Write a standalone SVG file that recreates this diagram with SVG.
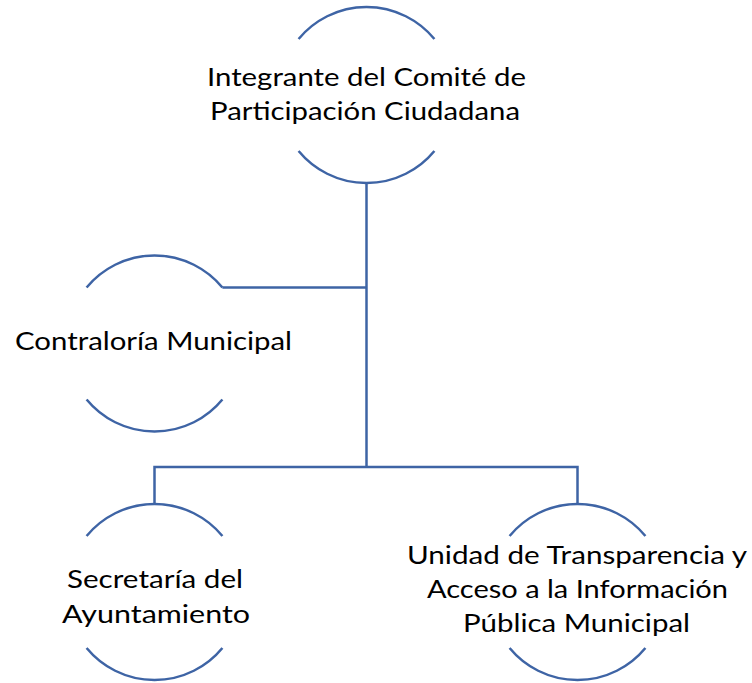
<svg xmlns="http://www.w3.org/2000/svg" width="752" height="683" viewBox="0 0 752 683">
<style>
.arc{fill:none;stroke:#3E64A5;stroke-width:2.5}
.con{fill:none;stroke:#3E64A5;stroke-width:2.5}
.t{font-family:Lato,"Open Sans","Liberation Sans",sans-serif;font-size:24.5px;fill:#000;text-anchor:middle}
</style>
<rect width="752" height="683" fill="#fff"/>
<g id="connectors">
<path class="con" d="M366.5 183 V467"/>
<path class="con" d="M222.4 287.5 H366.5"/>
<path class="con" d="M154.5 504 V467 H577.5 V504"/>
</g>
<g id="node-comite">
<path class="arc" d="M298.6 39 A88 88 0 0 1 434.4 39"/>
<path class="arc" d="M298.6 151 A88 88 0 0 0 434.4 151"/>
<text class="t" x="366.5" y="86" textLength="319" lengthAdjust="spacingAndGlyphs">Integrante del Comité de</text>
<text class="t" x="365" y="120" textLength="310" lengthAdjust="spacingAndGlyphs">Participación Ciudadana</text>
</g>
<g id="node-contraloria">
<path class="arc" d="M86.6 287.5 A88 88 0 0 1 222.4 287.5"/>
<path class="arc" d="M86.6 399.5 A88 88 0 0 0 222.4 399.5"/>
<text class="t" x="153.5" y="350" textLength="277" lengthAdjust="spacingAndGlyphs">Contraloría Municipal</text>
</g>
<g id="node-secretaria">
<path class="arc" d="M86.6 536 A88 88 0 0 1 222.4 536"/>
<path class="arc" d="M86.6 648 A88 88 0 0 0 222.4 648"/>
<text class="t" x="155" y="588" textLength="176" lengthAdjust="spacingAndGlyphs">Secretaría del</text>
<text class="t" x="156" y="622.5" textLength="188" lengthAdjust="spacingAndGlyphs">Ayuntamiento</text>
</g>
<g id="node-unidad">
<path class="arc" d="M509.6 536 A88 88 0 0 1 645.4 536"/>
<path class="arc" d="M509.6 648 A88 88 0 0 0 645.4 648"/>
<text class="t" x="577" y="563.5" textLength="340" lengthAdjust="spacingAndGlyphs">Unidad de Transparencia y</text>
<text class="t" x="577.5" y="597.5" textLength="301" lengthAdjust="spacingAndGlyphs">Acceso a la Información</text>
<text class="t" x="576.5" y="631.5" textLength="227" lengthAdjust="spacingAndGlyphs">Pública Municipal</text>
</g>
</svg>
